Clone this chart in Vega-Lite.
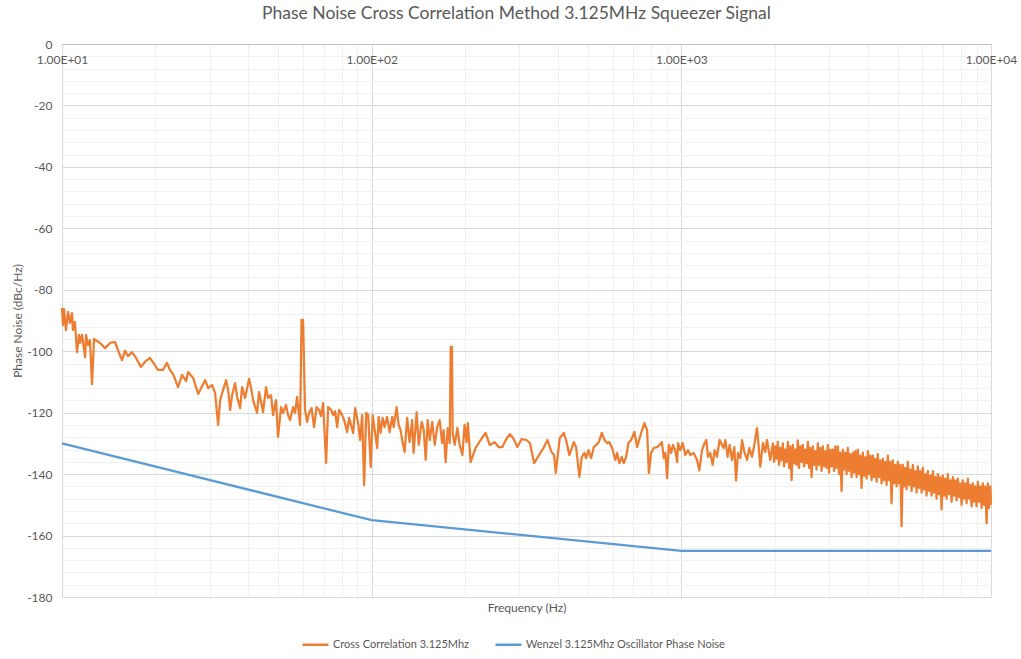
{
  "$schema": "https://vega.github.io/schema/vega-lite/v6.json",
  "width": 929,
  "height": 553,
  "autosize": {"type": "none"},
  "padding": {"left": 62, "top": 44, "right": 30, "bottom": 62},
  "background": "white",
  "title": {"text": "Phase Noise Cross Correlation Method 3.125MHz Squeezer Signal", "font": "Lato", "fontSize": 17.5, "fontWeight": "normal", "color": "#595959", "offset": 16, "dx": -10},
  "config": {"view": {"stroke": null}, "font": "Lato"},
  "encoding": {
    "x": {
      "field": "f", "type": "quantitative",
      "scale": {"type": "log", "domain": [10, 10000], "nice": false},
      "axis": {
        "orient": "top",
        "values": [10,20,30,40,50,60,70,80,90,100,200,300,400,500,600,700,800,900,1000,2000,3000,4000,5000,6000,7000,8000,9000,10000],
        "labelExpr": "indexof([10,100,1000,10000], datum.value) >= 0 ? '1.00E+0' + round(log(datum.value)/LN10) : ''",
        "labelOverlap": false,
        "labelFlush": false,
        "labelBaseline": "top",
        "labelPadding": -10,
        "labelFontSize": 12,
        "labelColor": "#595959",
        "ticks": false,
        "domainColor": "#bfbfbf",
        "grid": true,
        "gridColor": {"condition": {"test": "indexof([10,100,1000,10000], datum.value) >= 0", "value": "#d9d9d9"}, "value": "#f0f0f0"},
        "title": "Frequency (Hz)",
        "titleY": 563,
        "titleBaseline": "middle",
        "titleFontSize": 12,
        "titleFontWeight": "normal",
        "titleColor": "#595959"
      }
    },
    "y": {
      "field": "v", "type": "quantitative",
      "scale": {"domain": [-180, 0], "nice": false, "zero": false},
      "axis": {
        "values": [-180,-176,-172,-168,-164,-160,-156,-152,-148,-144,-140,-136,-132,-128,-124,-120,-116,-112,-108,-104,-100,-96,-92,-88,-84,-80,-76,-72,-68,-64,-60,-56,-52,-48,-44,-40,-36,-32,-28,-24,-20,-16,-12,-8,-4,0],
        "labelExpr": "datum.value % 20 == 0 ? '' + datum.value : ''",
        "labelOverlap": false,
        "labelFlush": false,
        "ticks": false,
        "domain": false,
        "labelPadding": 10,
        "labelFontSize": 12,
        "labelColor": "#595959",
        "grid": true,
        "gridColor": {"condition": {"test": "datum.value % 20 == 0", "value": "#d9d9d9"}, "value": "#f0f0f0"},
        "title": "Phase Noise (dBc/Hz)",
        "titleFontSize": 12,
        "titleFontWeight": "normal",
        "titleColor": "#595959",
        "titlePadding": 2
      }
    }
  },
  "layer": [
    {
      "data": {"values": [
        {"f":10,"v":-85.9},{"f":10.07,"v":-91.5},{"f":10.15,"v":-86.3},{"f":10.3,"v":-93.1},{"f":10.46,"v":-87.2},{"f":10.61,"v":-90.8},{"f":10.77,"v":-87.6},{"f":10.85,"v":-93.1},{"f":11.01,"v":-90.5},{"f":11.18,"v":-100.3},
        {"f":11.35,"v":-94.7},{"f":11.44,"v":-97.3},{"f":11.61,"v":-94.7},{"f":11.87,"v":-101.9},{"f":11.96,"v":-94.7},{"f":12.13,"v":-98},{"f":12.31,"v":-96.4},{"f":12.5,"v":-110.7},{"f":12.69,"v":-96},{"f":12.97,"v":-96.7},
        {"f":13.27,"v":-97.3},{"f":13.77,"v":-99},{"f":14.29,"v":-97.3},{"f":14.83,"v":-97},{"f":15.16,"v":-99.6},{"f":15.62,"v":-102.9},{"f":15.97,"v":-99.9},{"f":16.33,"v":-101.6},{"f":16.83,"v":-100.3},{"f":17.34,"v":-102.2},
        {"f":17.99,"v":-105.1},{"f":18.53,"v":-103.5},{"f":19.23,"v":-102.2},{"f":19.96,"v":-104.5},{"f":20.41,"v":-106.1},{"f":21.18,"v":-106.1},{"f":21.83,"v":-103.8},{"f":22.32,"v":-106.1},{"f":22.83,"v":-107.4},{"f":23.7,"v":-111.7},
        {"f":24.42,"v":-107.7},{"f":25.17,"v":-109.7},{"f":25.55,"v":-106.8},{"f":26.52,"v":-108.7},{"f":27.52,"v":-113.9},{"f":27.94,"v":-112.6},{"f":28.99,"v":-109.4},{"f":29.64,"v":-112},{"f":30.54,"v":-111},{"f":31.22,"v":-113.6},
        {"f":31.93,"v":-124},{"f":32.41,"v":-115.9},{"f":33.14,"v":-112.6},{"f":33.89,"v":-109.4},{"f":34.39,"v":-112.6},{"f":34.91,"v":-119.1},{"f":35.43,"v":-114.3},{"f":36.23,"v":-110.4},{"f":36.77,"v":-114.9},{"f":37.6,"v":-118.5},
        {"f":38.16,"v":-111.7},{"f":39.01,"v":-115.2},{"f":40.19,"v":-109},{"f":40.8,"v":-112},{"f":41.41,"v":-115.9},{"f":42.65,"v":-120.1},{"f":43.29,"v":-113.3},{"f":44.59,"v":-119.8},{"f":45.6,"v":-111.7},{"f":46.28,"v":-115.2},
        {"f":47.33,"v":-114.3},{"f":48.03,"v":-120.8},{"f":49.11,"v":-115.9},{"f":49.85,"v":-127.9},{"f":50.98,"v":-118.2},{"f":51.74,"v":-120.1},{"f":52.91,"v":-117.5},{"f":53.71,"v":-120.8},{"f":54.51,"v":-122.4},{"f":55.75,"v":-118.2},
        {"f":56.58,"v":-120.1},{"f":57.43,"v":-114.9},{"f":58.73,"v":-124},{"f":59.38,"v":-89.8},{"f":60.05,"v":-89.8},{"f":60.94,"v":-119.1},{"f":61.86,"v":-123},{"f":62.78,"v":-120.1},{"f":63.96,"v":-118.5},{"f":65.16,"v":-124.7},
        {"f":66.39,"v":-118.2},{"f":67.64,"v":-119.1},{"f":68.66,"v":-121.1},{"f":69.69,"v":-116.9},{"f":71.27,"v":-136.4},{"f":72.34,"v":-118.2},{"f":73.97,"v":-119.1},{"f":75.08,"v":-120.8},{"f":76.21,"v":-119.5},{"f":77.35,"v":-124.7},
        {"f":78.51,"v":-119.1},{"f":80.28,"v":-120.8},{"f":81.49,"v":-122.4},{"f":83.32,"v":-126.3},{"f":84.57,"v":-121.7},{"f":87.13,"v":-126.6},{"f":88.44,"v":-118.5},{"f":90.43,"v":-123.4},{"f":91.79,"v":-128.9},{"f":93.17,"v":-120.8},
        {"f":94.57,"v":-143.6},{"f":95.99,"v":-120.1},{"f":97.43,"v":-120.8},{"f":99.3,"v":-137.7},{"f":100.75,"v":-120.8},{"f":102.3,"v":-125.7},{"f":104.2,"v":-131.5},{"f":105.3,"v":-121.4},{"f":106.9,"v":-126.6},{"f":108.5,"v":-121.7},
        {"f":110.1,"v":-124.7},{"f":112.1,"v":-121.4},{"f":114.3,"v":-126.3},{"f":116.5,"v":-121.4},{"f":117.8,"v":-124.7},{"f":120.4,"v":-118.2},{"f":122.2,"v":-124},{"f":124,"v":-125.7},{"f":125.9,"v":-129.9},{"f":127.8,"v":-132.8},
        {"f":130.2,"v":-121.7},{"f":132.6,"v":-129.6},{"f":135.1,"v":-122.4},{"f":136.6,"v":-133.1},{"f":139.7,"v":-119.8},{"f":141.9,"v":-130.5},{"f":145.1,"v":-123},{"f":147.3,"v":-125.7},{"f":149.5,"v":-135.4},{"f":151.7,"v":-122.4},
        {"f":154,"v":-128.9},{"f":156.9,"v":-123},{"f":159.8,"v":-130.5},{"f":162.8,"v":-124.7},{"f":165.8,"v":-122.4},{"f":168.9,"v":-129.9},{"f":170.8,"v":-125.7},{"f":173.4,"v":-136.1},{"f":176,"v":-125},{"f":178.7,"v":-129.9},
        {"f":180,"v":-98.6},{"f":181.7,"v":-98.6},{"f":182.6,"v":-126.6},{"f":185.4,"v":-130.5},{"f":189.1,"v":-125},{"f":192.4,"v":-130.5},{"f":196.3,"v":-133.8},{"f":199.6,"v":-124},{"f":202.6,"v":-129.6},{"f":204.5,"v":-123.4},
        {"f":208.7,"v":-136.1},{"f":216.6,"v":-131.5},{"f":224.8,"v":-128.9},{"f":233.3,"v":-126.6},{"f":240.5,"v":-130.5},{"f":249.6,"v":-129.6},{"f":257.1,"v":-131.2},{"f":264.3,"v":-131.2},{"f":270.9,"v":-128.9},{"f":279.5,"v":-127},
        {"f":286.6,"v":-128.3},{"f":295.5,"v":-131.2},{"f":305.1,"v":-128.6},{"f":315.9,"v":-128.9},{"f":324.4,"v":-129.9},{"f":334.5,"v":-136.4},{"f":347.1,"v":-133.8},{"f":358.7,"v":-131.5},{"f":369.6,"v":-128.9},{"f":380.7,"v":-132.8},
        {"f":388.1,"v":-133.8},{"f":393,"v":-139.6},{"f":404.9,"v":-128.3},{"f":417.3,"v":-126.6},{"f":424.4,"v":-128.9},{"f":434.9,"v":-133.8},{"f":449.4,"v":-129.6},{"f":457.2,"v":-131.2},{"f":468.7,"v":-140.9},{"f":477.1,"v":-134.4},
        {"f":486.4,"v":-133.1},{"f":492.6,"v":-134.8},{"f":501.2,"v":-132.2},{"f":511.3,"v":-134.8},{"f":521.7,"v":-131.2},{"f":530.7,"v":-130.5},{"f":541.5,"v":-129.6},{"f":553.7,"v":-126.6},{"f":564.5,"v":-128.9},{"f":575.9,"v":-129.9},
        {"f":585.8,"v":-129.6},{"f":597.7,"v":-131.5},{"f":612.5,"v":-135.4},{"f":620.3,"v":-133.1},{"f":631,"v":-136.4},{"f":642.3,"v":-134.4},{"f":652,"v":-136.4},{"f":663.2,"v":-134.4},{"f":674.7,"v":-129.9},{"f":688.4,"v":-128.9},
        {"f":705.5,"v":-126.3},{"f":719.8,"v":-131.2},{"f":741.5,"v":-126.6},{"f":760,"v":-123.4},{"f":775.4,"v":-125.7},{"f":785.3,"v":-139.6},{"f":798.8,"v":-133.1},{"f":815,"v":-131.5},{"f":835.3,"v":-131.2},{"f":849.7,"v":-130.5},
        {"f":865,"v":-129.6},{"f":878,"v":-134.8},{"f":888.5,"v":-133.1},{"f":899.8,"v":-141.3},{"f":911.3,"v":-130.5},{"f":927,"v":-133.1},{"f":938.8,"v":-130.5},{"f":955.1,"v":-132.2},{"f":969.4,"v":-136.1},{"f":975.8,"v":-129.9},
        {"f":992.6,"v":-132.2},{"f":1009.7,"v":-129.9},{"f":1030.2,"v":-133.8},{"f":1051.1,"v":-132.2},{"f":1069.2,"v":-133.8},{"f":1095.7,"v":-133.1},{"f":1123.8,"v":-135.4},{"f":1143.1,"v":-138.8},{"f":1166.3,"v":-132.2},{"f":1189.1,"v":-129.9},
        {"f":1204.2,"v":-128.9},{"f":1219.5,"v":-134.4},{"f":1240.5,"v":-133.1},{"f":1261.9,"v":-137},{"f":1280.8,"v":-132.2},{"f":1304,"v":-134.4},{"f":1329.4,"v":-128.9},{"f":1353.2,"v":-130.5},{"f":1369.4,"v":-131.5},{"f":1386.8,"v":-128.9},
        {"f":1411,"v":-134.4},{"f":1432.2,"v":-130.5},{"f":1457.9,"v":-135.4},{"f":1483.1,"v":-131.2},{"f":1501.9,"v":-142.1},{"f":1524.4,"v":-133.1},{"f":1550.7,"v":-134.8},{"f":1570.4,"v":-128.9},{"f":1597.5,"v":-132.8},{"f":1629.8,"v":-135.4},
        {"f":1657.9,"v":-131.5},{"f":1691.3,"v":-134.4},{"f":1720.4,"v":-130.5},{"f":1755,"v":-125},{"f":1776,"v":-130.5},{"f":1798.6,"v":-137.6},{"f":1835,"v":-129.9},{"f":1866.6,"v":-132.8},{"f":1890.3,"v":-128.9},{"f":1937.4,"v":-135.4},
        {"f":1975,"v":-130},{"f":1993,"v":-136},{"f":2012,"v":-131},{"f":2031,"v":-135},{"f":2049,"v":-129.5},{"f":2068,"v":-137},{"f":2088,"v":-131.5},{"f":2107,"v":-135.5},{"f":2127,"v":-130},{"f":2147,"v":-137.5},
        {"f":2167,"v":-132},{"f":2187,"v":-136},{"f":2208,"v":-129.5},{"f":2229,"v":-138},{"f":2249,"v":-131},{"f":2270,"v":-142},{"f":2291,"v":-130.5},{"f":2312,"v":-136.5},{"f":2334,"v":-132},{"f":2356,"v":-137},
        {"f":2378,"v":-129},{"f":2400,"v":-138},{"f":2423,"v":-131},{"f":2446,"v":-136},{"f":2468,"v":-130.5},{"f":2491,"v":-137.5},{"f":2515,"v":-132},{"f":2538,"v":-136.5},{"f":2562,"v":-129.5},{"f":2586,"v":-138},
        {"f":2610,"v":-131.5},{"f":2634,"v":-141},{"f":2659,"v":-131},{"f":2684,"v":-137},{"f":2709,"v":-132.5},{"f":2734,"v":-138.5},{"f":2760,"v":-130},{"f":2786,"v":-137},{"f":2811,"v":-131.5},{"f":2837,"v":-139},
        {"f":2864,"v":-131},{"f":2891,"v":-137.5},{"f":2918,"v":-132.5},{"f":2945,"v":-138},{"f":2972,"v":-130.5},{"f":3000,"v":-139.5},{"f":3028,"v":-132},{"f":3056,"v":-137.5},{"f":3085,"v":-132},{"f":3114,"v":-139},
        {"f":3143,"v":-131},{"f":3172,"v":-138},{"f":3202,"v":-131},{"f":3232,"v":-140},{"f":3262,"v":-133},{"f":3292,"v":-145.5},{"f":3323,"v":-132},{"f":3354,"v":-138.5},{"f":3385,"v":-133},{"f":3417,"v":-140},
        {"f":3449,"v":-131.5},{"f":3481,"v":-139},{"f":3514,"v":-133.5},{"f":3547,"v":-141},{"f":3580,"v":-133},{"f":3613,"v":-139.5},{"f":3647,"v":-132.5},{"f":3681,"v":-141},{"f":3715,"v":-132},{"f":3750,"v":-140},
        {"f":3785,"v":-134},{"f":3820,"v":-144.5},{"f":3856,"v":-133},{"f":3892,"v":-140.5},{"f":3928,"v":-134.5},{"f":3965,"v":-141.5},{"f":4002,"v":-132.5},{"f":4039,"v":-140},{"f":4077,"v":-134},{"f":4115,"v":-142},
        {"f":4154,"v":-134},{"f":4193,"v":-141},{"f":4232,"v":-135},{"f":4272,"v":-142.5},{"f":4311,"v":-133.5},{"f":4351,"v":-141},{"f":4392,"v":-135.5},{"f":4433,"v":-143},{"f":4474,"v":-135},{"f":4516,"v":-142},
        {"f":4558,"v":-136},{"f":4601,"v":-143.5},{"f":4644,"v":-134},{"f":4687,"v":-142},{"f":4731,"v":-136},{"f":4775,"v":-149.5},{"f":4820,"v":-135.5},{"f":4865,"v":-143},{"f":4910,"v":-137},{"f":4956,"v":-144},
        {"f":5002,"v":-136},{"f":5049,"v":-143},{"f":5096,"v":-137},{"f":5144,"v":-157},{"f":5192,"v":-137},{"f":5240,"v":-144},{"f":5289,"v":-138},{"f":5338,"v":-145},{"f":5388,"v":-136},{"f":5438,"v":-143.5},
        {"f":5490,"v":-138.5},{"f":5541,"v":-145.5},{"f":5593,"v":-137},{"f":5645,"v":-144},{"f":5698,"v":-139},{"f":5751,"v":-146},{"f":5804,"v":-137.5},{"f":5858,"v":-144.5},{"f":5913,"v":-139},{"f":5968,"v":-146},
        {"f":6024,"v":-138},{"f":6080,"v":-145},{"f":6137,"v":-140},{"f":6194,"v":-147},{"f":6252,"v":-139},{"f":6310,"v":-145.5},{"f":6370,"v":-140.5},{"f":6429,"v":-147},{"f":6489,"v":-139},{"f":6550,"v":-146},
        {"f":6611,"v":-141},{"f":6673,"v":-148},{"f":6735,"v":-140},{"f":6798,"v":-146.5},{"f":6861,"v":-141},{"f":6925,"v":-151.5},{"f":6990,"v":-140.5},{"f":7055,"v":-147},{"f":7121,"v":-141.5},{"f":7188,"v":-148},
        {"f":7255,"v":-140},{"f":7323,"v":-146.5},{"f":7391,"v":-142},{"f":7460,"v":-149},{"f":7530,"v":-141},{"f":7600,"v":-147},{"f":7671,"v":-142},{"f":7743,"v":-148.5},{"f":7815,"v":-141.5},{"f":7888,"v":-147.5},
        {"f":7962,"v":-143},{"f":8036,"v":-150},{"f":8111,"v":-142},{"f":8187,"v":-148},{"f":8263,"v":-143},{"f":8340,"v":-149.5},{"f":8418,"v":-141.5},{"f":8497,"v":-148},{"f":8576,"v":-143.5},{"f":8656,"v":-150.5},
        {"f":8737,"v":-143},{"f":8819,"v":-149},{"f":8901,"v":-144},{"f":8984,"v":-150.5},{"f":9068,"v":-142.5},{"f":9153,"v":-149},{"f":9238,"v":-144},{"f":9324,"v":-151},{"f":9411,"v":-143},{"f":9499,"v":-150},
        {"f":9588,"v":-144},{"f":9678,"v":-156},{"f":9768,"v":-143},{"f":9859,"v":-151},{"f":9951,"v":-144},{"f":10000,"v":-150}
      ]},
      "mark": {"type": "line", "strokeWidth": 2.25, "strokeJoin": "round"},
      "encoding": {"color": {"datum": "Cross Correlation 3.125Mhz",
        "scale": {"domain": ["Cross Correlation 3.125Mhz", "Wenzel 3.125Mhz Oscillator Phase Noise"], "range": ["#ED7D31", "#5B9BD5"]},
        "legend": {"orient": "none", "legendX": 239, "legendY": 586, "direction": "horizontal", "title": null, "symbolType": "stroke", "symbolStrokeWidth": 2.5, "symbolSize": 676, "labelFontSize": 11, "labelLimit": 0, "labelColor": "#595959", "columnPadding": 20, "labelOffset": 3}}}
    },
    {
      "data": {"values": [
        {"f": 10, "v": -130}, {"f": 100, "v": -155}, {"f": 1000, "v": -165}, {"f": 10000, "v": -165}
      ]},
      "mark": {"type": "line", "strokeWidth": 2.25},
      "encoding": {"color": {"datum": "Wenzel 3.125Mhz Oscillator Phase Noise"}}
    }
  ]
}
